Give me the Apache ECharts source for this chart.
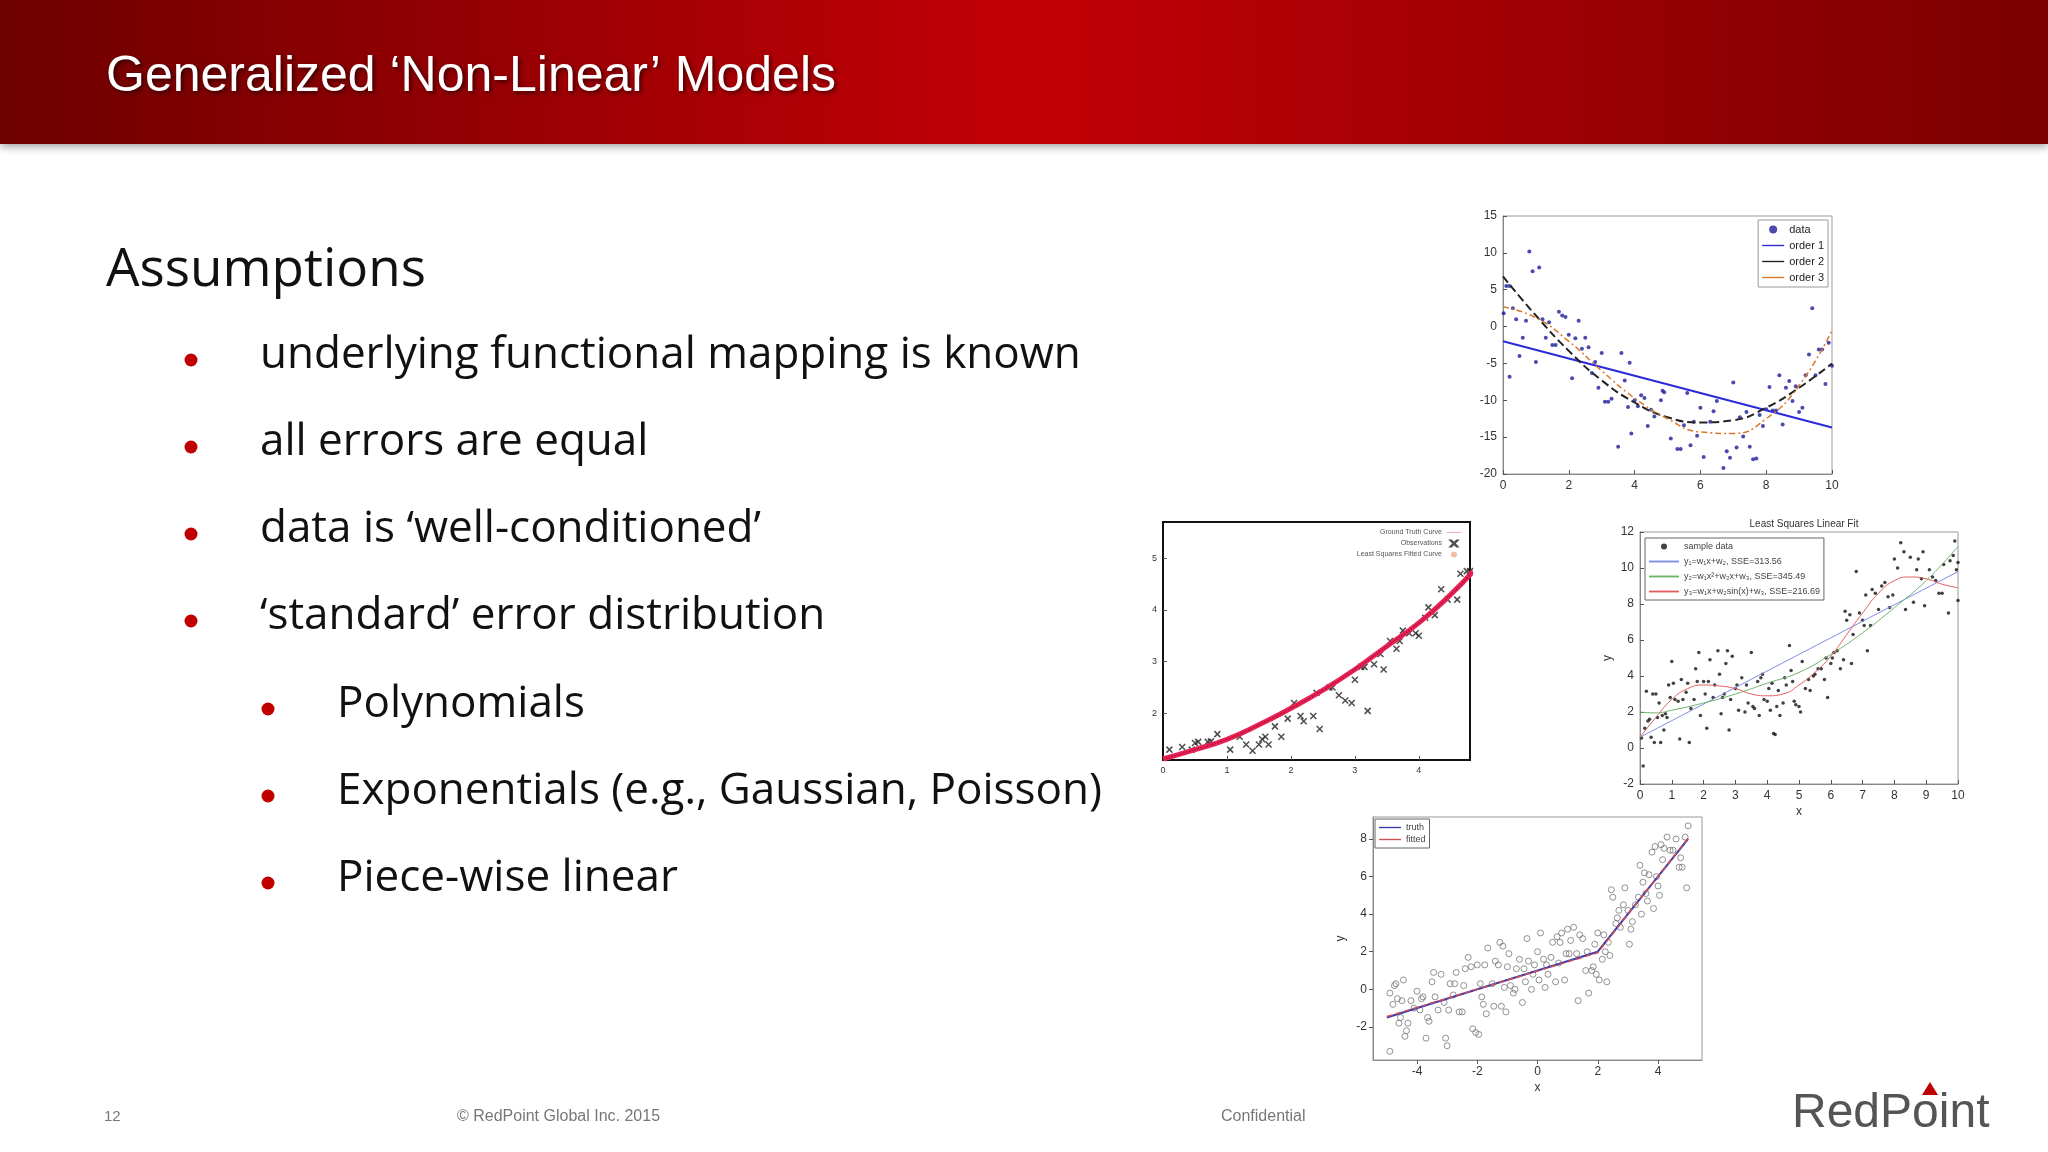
<!DOCTYPE html>
<html>
<head>
<meta charset="utf-8">
<script src="https://cdn.jsdelivr.net/npm/echarts@6/dist/echarts.min.js"></script>
<style>
  html, body { margin: 0; padding: 0; background: #fff; }
  #main { width: 2048px; height: 1152px; }
</style>
</head>
<body>
<div id="main"></div>
<script>
// slide text
const slideTitle = "Generalized \u2018Non-Linear\u2019 Models";
const heading = "Assumptions";
const bullets = ["underlying functional mapping is known", "all errors are equal",
  "data is \u2018well-conditioned\u2019", "\u2018standard\u2019 error distribution"];
const subBullets = ["Polynomials", "Exponentials (e.g., Gaussian, Poisson)", "Piece-wise linear"];

// chart 1: polynomial fits
const polyData = [[0.02,1.8],[0.1,5.5],[0.2,5.5],[0.2,-6.8],[0.3,2.5],[0.4,1],[0.5,-4],[0.6,-1.5],[0.7,0.8],[0.8,10.2],[0.9,7.5],[1.0,-4.8],[1.1,8],[1.2,1],[1.3,-1.5],[1.4,0.6],[1.5,-2.5],[1.6,-2.5],[1.7,2],[1.8,1.5],[1.9,1.3],[2.0,-1.1],[2.1,-7],[2.2,-1.6],[2.3,0.8],[2.4,-3],[2.5,-1.5],[2.6,-2.8],[2.7,-6.3],[2.8,-4.8],[2.9,-8.3],[3.0,-3.6],[3.1,-10.2],[3.2,-10.2],[3.3,-9.8],[3.5,-16.3],[3.6,-3.6],[3.7,-7.3],[3.8,-10.9],[3.85,-4.9],[3.9,-14.5],[4.0,-10],[4.1,-10.8],[4.2,-9.3],[4.3,-9.7],[4.4,-13.5],[4.5,-11.3],[4.6,-12.2],[4.8,-10],[4.85,-8.7],[4.9,-8.9],[5.1,-15.2],[5.3,-16.6],[5.4,-16.6],[5.5,-13.4],[5.6,-9],[5.7,-16.1],[5.8,-12.9],[5.9,-14.8],[6.0,-11],[6.1,-17.7],[6.3,-12.9],[6.4,-11.5],[6.5,-10.1],[6.7,-19.2],[6.8,-16.9],[6.9,-17.8],[7.0,-7.6],[7.1,-16.4],[7.2,-12.3],[7.3,-14.9],[7.4,-11.6],[7.5,-16.3],[7.6,-18],[7.7,-17.9],[7.8,-12],[7.9,-13.5],[8.0,-11.2],[8.1,-8.2],[8.2,-11.4],[8.3,-11.4],[8.4,-6.6],[8.5,-13.3],[8.6,-8.3],[8.7,-7.4],[8.8,-10.1],[8.9,-8.1],[9.0,-11.6],[9.1,-11],[9.2,-6.6],[9.3,-3.8],[9.4,2.5],[9.5,-6.6],[9.6,-3.1],[9.7,-3.1],[9.8,-7.8],[9.9,-2.2],[10,-5.3]];
const order1 = [[0,-2],[10,-13.7]];
const order2 = [[0,6.8],[1,1.5],[2,-3.3],[3,-7.3],[4,-10.3],[5,-12.3],[6,-13],[7,-12.7],[8,-11],[9,-8.3],[10,-5]];
const order3 = [[0,2.7],[1,1.2],[2,-2],[3,-6],[4,-9.7],[5,-12.5],[6,-14.3],[7,-14.5],[8,-12.5],[9,-8],[10,-0.5]];

// chart 2: exponential-like fit
const expObs = [[0.1,1.3],[0.3,1.35],[0.45,1.3],[0.5,1.43],[0.55,1.45],[0.7,1.45],[0.75,1.46],[0.85,1.6],[0.9,0.98],[0.95,0.98],[1.05,1.3],[1.2,1.55],[1.3,1.4],[1.4,1.28],[1.5,1.4],[1.55,1.5],[1.6,1.55],[1.65,1.4],[1.75,1.75],[1.85,1.55],[1.95,1.9],[2.05,2.2],[2.15,1.95],[2.2,1.85],[2.35,1.95],[2.4,2.4],[2.45,1.7],[2.6,2.5],[2.65,2.5],[2.75,2.35],[2.85,2.25],[2.95,2.2],[3.0,2.65],[3.1,2.9],[3.15,2.9],[3.2,2.05],[3.3,2.95],[3.4,3.15],[3.45,2.85],[3.55,3.4],[3.65,3.25],[3.7,3.4],[3.75,3.6],[3.85,3.55],[3.95,3.55],[4.0,3.5],[4.1,3.85],[4.15,4.05],[4.25,3.9],[4.35,4.4],[4.45,4.2],[4.6,4.2],[4.65,4.7],[4.75,4.75],[4.8,4.75]];
const expCurve = [[0,1.12],[0.5,1.3],[1,1.5],[1.5,1.78],[2,2.1],[2.5,2.45],[3,2.85],[3.5,3.3],[4,3.75],[4.5,4.3],[4.85,4.75]];
const expYTicks = [2, 3, 4, 5];
const expXTicks = [0, 1, 2, 3, 4];

// chart 3: least squares linear fit
const lsData = [[0.05,0.55],[0.1,-1],[0.15,1.1],[0.2,3.15],[0.25,1.5],[0.3,1.6],[0.35,0.6],[0.4,3],[0.45,0.3],[0.5,3],[0.55,1.7],[0.6,2.5],[0.65,0.3],[0.7,1.8],[0.75,1],[0.8,1.9],[0.85,1.7],[0.9,3.5],[0.95,2.8],[1.0,4.8],[1.05,3.6],[1.1,2.7],[1.2,2.6],[1.25,0.5],[1.3,3.8],[1.35,2.7],[1.45,3.1],[1.5,3.6],[1.55,0.3],[1.6,2.2],[1.7,2.7],[1.75,4.4],[1.8,3.7],[1.85,5.3],[1.9,1.8],[2.0,3.7],[2.05,3],[2.1,1.1],[2.15,3.7],[2.2,4.9],[2.3,2.8],[2.35,3.5],[2.45,5.4],[2.5,4.1],[2.55,1.9],[2.6,2.8],[2.65,3],[2.7,4.7],[2.75,5.4],[2.8,1],[2.85,2.7],[2.9,5.1],[3.0,3.3],[3.05,3.5],[3.1,2.1],[3.2,3.9],[3.3,2],[3.35,3.5],[3.4,2.5],[3.5,5.3],[3.55,2.3],[3.6,2.2],[3.7,3.7],[3.75,1.8],[3.8,3.9],[3.85,4.1],[3.9,2.7],[4.0,2.6],[4.05,3.3],[4.1,2.1],[4.15,3.6],[4.2,0.8],[4.25,0.75],[4.3,2.3],[4.35,3.2],[4.4,1.8],[4.5,2.5],[4.55,3.9],[4.6,3.5],[4.7,5.7],[4.75,4.3],[4.8,3.7],[4.85,2.6],[4.9,2.4],[5.0,2.3],[5.05,2.0],[5.1,4.8],[5.2,3.3],[5.3,3.8],[5.35,3.2],[5.45,4],[5.5,4.1],[5.6,4.4],[5.7,4.4],[5.8,3.8],[5.85,5.0],[5.9,2.8],[6.0,4.7],[6.05,5],[6.1,5.3],[6.2,5.4],[6.3,4.4],[6.4,4.9],[6.45,7.6],[6.5,7.1],[6.6,7.4],[6.65,4.7],[6.7,6.3],[6.8,9.8],[6.9,7.5],[7.0,7.1],[7.05,6.8],[7.1,8.5],[7.15,5.4],[7.25,6.8],[7.3,8.8],[7.4,8.6],[7.5,7.7],[7.6,9],[7.7,9.2],[7.8,8.4],[7.85,7.8],[7.95,8.5],[8.0,10.5],[8.1,10],[8.2,11.4],[8.3,10.9],[8.35,7.7],[8.5,10.6],[8.6,8.1],[8.7,9.9],[8.75,10.5],[8.85,9.4],[8.9,10.9],[8.95,7.9],[9.1,9.9],[9.2,9.5],[9.3,9.3],[9.4,8.6],[9.5,8.6],[9.55,10.2],[9.7,7.5],[9.75,10.4],[9.85,10.7],[9.9,11.5],[10,10.3],[10,8.2],[9.95,9.9]];
const lsLinear = [[0,0.6],[10,9.8]];
const lsQuad = [[0,2],[0.5,1.95],[1,2.1],[2,2.5],[3,3],[4,3.6],[5,4.2],[6,5.2],[7,6.4],[8,7.8],[9,9.3],[10,11.2]];
const lsSin = [[0,0.6],[0.5,1.7],[1,2.7],[1.5,3.3],[2,3.5],[2.5,3.45],[3,3.3],[3.5,3.0],[4,2.9],[4.5,3.0],[5,3.5],[5.5,4.2],[6,5.1],[6.5,6.3],[7,7.5],[7.5,8.6],[8,9.3],[8.5,9.5],[9,9.4],[9.5,9.1],[10,8.9]];

// chart 4: piece-wise linear
const pwData = [[-4.9,-0.2],[-4.9,-3.3],[-4.8,-0.8],[-4.75,0.2],[-4.7,0.3],[-4.65,-0.5],[-4.6,-1.8],[-4.55,-1.5],[-4.5,-0.6],[-4.45,0.5],[-4.4,-2.5],[-4.35,-2.2],[-4.3,-1.8],[-4.2,-0.6],[-4.1,-1],[-4,-0.1],[-3.9,-1.1],[-3.85,-0.5],[-3.8,-0.4],[-3.7,-2.6],[-3.65,-1.5],[-3.6,-1.7],[-3.5,0.4],[-3.45,0.9],[-3.4,-0.4],[-3.3,-1.1],[-3.2,0.8],[-3.1,-0.7],[-3.05,-2.6],[-3,-3],[-2.95,-1.1],[-2.9,0.3],[-2.8,-0.3],[-2.75,0.3],[-2.7,0.9],[-2.6,-1.2],[-2.5,-1.2],[-2.45,0.2],[-2.4,1.1],[-2.3,1.7],[-2.2,1.2],[-2.15,-2.1],[-2.05,-2.3],[-2,1.3],[-1.95,-2.4],[-1.9,0.3],[-1.85,-0.4],[-1.8,-0.8],[-1.75,1.3],[-1.7,-1.3],[-1.65,2.2],[-1.5,0.3],[-1.45,-0.9],[-1.4,1.5],[-1.3,1.3],[-1.25,2.5],[-1.2,-0.9],[-1.15,2.3],[-1.1,0.1],[-1.05,-1.2],[-1,1.2],[-0.95,1.9],[-0.9,0.2],[-0.8,-0.2],[-0.75,0],[-0.7,1.1],[-0.6,1.6],[-0.5,-0.7],[-0.45,1.1],[-0.4,0.4],[-0.35,2.7],[-0.3,1.5],[-0.2,0],[-0.15,0.8],[-0.1,1.3],[0,2],[0.05,0.5],[0.1,3],[0.2,1.6],[0.25,0.1],[0.3,1.3],[0.35,0.8],[0.45,1.7],[0.5,2.5],[0.6,0.4],[0.65,2.8],[0.7,1.4],[0.75,2.5],[0.8,3],[0.9,0.5],[0.95,1.9],[1,3.2],[1.05,1.9],[1.1,2.6],[1.2,3.3],[1.3,1.9],[1.35,-0.6],[1.4,2.9],[1.5,2.7],[1.6,1],[1.65,2],[1.7,-0.2],[1.8,1],[1.85,1.2],[1.9,2.4],[1.95,0.8],[2,3],[2.05,0.5],[2.15,1.6],[2.2,2.9],[2.25,2],[2.3,0.4],[2.35,2.5],[2.4,1.8],[2.45,5.3],[2.5,4.9],[2.6,3.5],[2.65,3.8],[2.7,4.2],[2.75,3.3],[2.85,4.5],[2.9,5.4],[3,4.2],[3.05,2.4],[3.1,3.2],[3.15,3.6],[3.25,4.5],[3.35,4.9],[3.4,6.6],[3.45,4],[3.5,5.7],[3.55,6.2],[3.6,5.1],[3.65,4.7],[3.7,6.1],[3.8,7.3],[3.85,4.3],[3.9,7.6],[3.95,6],[4,5.5],[4.05,5],[4.1,7.7],[4.15,6.9],[4.2,7.5],[4.3,8.1],[4.4,7.4],[4.5,7.4],[4.6,8],[4.7,6.5],[4.75,7],[4.8,6.5],[4.9,8.1],[4.95,5.4],[5,8.7]];
const pwTruth = [[-5,-1.5],[2,2],[5,8]];
const pwFitted = [[-5,-1.45],[2,1.95],[5,8.05]];
const pwXTicks = [-4, -2, 0, 2, 4];
const pwYTicks = [-2, 0, 2, 4, 6, 8];

const chart = echarts.init(document.getElementById('main'));
const small = { fontSize: 12, color: '#333', fontFamily: 'Liberation Sans' };
const lineIcon = 'path://M0,4L24,4L24,5.5L0,5.5Z';

function axisPair(gi, xr, yr, opts) {
  opts = opts || {};
  const common = {
    gridIndex: gi, type: 'value', splitLine: { show: false },
    axisLine: { show: true, onZero: false, lineStyle: { color: opts.lineColor || '#888' } },
    axisTick: { inside: true, length: 4, lineStyle: { color: '#555' } },
    axisLabel: Object.assign({ margin: 6, showMinLabel: true, showMaxLabel: true }, small)
  };
  return {
    x: Object.assign({}, common, { min: xr[0], max: xr[1], interval: xr[2], name: opts.xName || '', nameLocation: 'middle', nameGap: 22, nameTextStyle: small }),
    y: Object.assign({}, common, { min: yr[0], max: yr[1], interval: yr[2], name: opts.yName || '', nameLocation: 'middle', nameGap: 26, nameTextStyle: small })
  };
}
function custom(ax, vals) {
  ax.interval = null;
  ax.axisLabel = Object.assign({}, ax.axisLabel, { customValues: vals });
  ax.axisTick = Object.assign({}, ax.axisTick, { customValues: vals });
}

const a1 = axisPair(0, [0, 10, 2], [-20, 15, 5]);
const a2 = axisPair(1, [0, 4.8, 1], [1.1, 5.7, 1], { lineColor: '#111' });
custom(a2.x, expXTicks); custom(a2.y, expYTicks);
a2.x.axisLabel.fontSize = 9; a2.y.axisLabel.fontSize = 9;
const a3 = axisPair(2, [0, 10, 1], [-2, 12, 2], { xName: 'x', yName: 'y' });
const a4 = axisPair(3, [-5.46, 5.46, 2], [-3.76, 9.17, 2], { xName: 'x', yName: 'y' });
custom(a4.x, pwXTicks); custom(a4.y, pwYTicks);
a4.x.axisTick.inside = false; a4.y.axisTick.inside = false;

const grids = [
  { left: 1503, top: 216, width: 329, height: 258 },
  { left: 1163, top: 522, width: 307, height: 238 },
  { left: 1640, top: 532, width: 318, height: 252 },
  { left: 1373, top: 817, width: 329, height: 243 }
].map(g => Object.assign(g, { show: true, borderColor: '#999', borderWidth: 1, backgroundColor: '#fff' }));
grids[1].borderColor = '#111'; grids[1].borderWidth = 2;

const legTxt = { fontSize: 11, color: '#222', fontFamily: 'Liberation Sans' };

chart.setOption({
  animation: false,
  backgroundColor: '#fff',
  grid: grids,
  xAxis: [a1.x, a2.x, a3.x, a4.x],
  yAxis: [a1.y, a2.y, a3.y, a4.y],
  title: [{ text: 'Least Squares Linear Fit', left: 1799, top: 514, textAlign: 'center',
    textStyle: { fontSize: 10, fontWeight: 'normal', color: '#333', fontFamily: 'Liberation Sans' } }],
  legend: [
    { data: [{ name: 'data', icon: 'circle' }, { name: 'order 1', icon: lineIcon }, { name: 'order 2', icon: lineIcon }, { name: 'order 3', icon: lineIcon }],
      orient: 'vertical', right: 2048 - 1828, top: 220,
      itemWidth: 22, itemHeight: 8, itemGap: 5, textStyle: legTxt, backgroundColor: '#fff',
      borderColor: '#999', borderWidth: 1, padding: 4 },
    { data: [{ name: 'Ground Truth Curve', icon: lineIcon }, { name: 'Observations', icon: 'path://M0,0L2,0L10,8L18,0L20,0L11,9L20,18L18,18L10,10L2,18L0,18L9,9Z' }, { name: 'Least Squares Fitted Curve', icon: 'circle' }],
      orient: 'vertical', right: 2048 - 1466, top: 524, align: 'right', itemWidth: 14, itemHeight: 6, itemGap: 2,
      textStyle: { fontSize: 7, color: '#555' } },
    { data: [{ name: 'sample data', icon: 'circle' }, { name: 'y\u2081=w\u2081x+w\u2082, SSE=313.56', icon: lineIcon }, { name: 'y\u2082=w\u2081x\u00b2+w\u2082x+w\u2083, SSE=345.49', icon: lineIcon }, { name: 'y\u2083=w\u2081x+w\u2082sin(x)+w\u2083, SSE=216.69', icon: lineIcon }],
      orient: 'vertical', left: 1645, top: 538, itemWidth: 30, itemHeight: 6, itemGap: 6,
      textStyle: { fontSize: 9, color: '#444' }, borderColor: '#666', borderWidth: 1, padding: 4, backgroundColor: '#fff' },
    { data: [{ name: 'truth', icon: lineIcon }, { name: 'fitted', icon: lineIcon }], orient: 'vertical', left: 1375, top: 819, itemWidth: 22, itemHeight: 6, itemGap: 3,
      textStyle: { fontSize: 9, color: '#444' }, borderColor: '#666', borderWidth: 1, padding: 4, backgroundColor: '#fff' }
  ],
  graphic: [
    { type: 'rect', left: 0, top: 0, shape: { width: 2048, height: 144 }, z: -1,
      style: { fill: new echarts.graphic.LinearGradient(0, 0, 1, 0, [
        { offset: 0, color: '#6e0000' }, { offset: 0.5, color: '#c20006' }, { offset: 1, color: '#7a0000' }]),
        shadowBlur: 8, shadowColor: 'rgba(0,0,0,0.35)', shadowOffsetY: 3 } },
    { type: 'text', left: 106, top: 52, style: { text: slideTitle, fill: '#fff', font: '50px "Liberation Sans"',
      textShadowBlur: 4, textShadowColor: 'rgba(0,0,0,0.6)', textShadowOffsetX: 2, textShadowOffsetY: 2 } },
    { type: 'text', left: 106, top: 244, style: { text: heading, fill: '#111', font: '53px "Open Sans"' } },
    ...bullets.flatMap((b, i) => [
      { type: 'circle', shape: { cx: 191, cy: 360 + i * 87, r: 6.5 }, style: { fill: '#c00000' } },
      { type: 'text', left: 260, top: 333 + i * 87, style: { text: b, fill: '#111', font: '44px "Open Sans"' } }
    ]),
    ...subBullets.flatMap((b, i) => [
      { type: 'circle', shape: { cx: 268, cy: 709 + i * 87, r: 6.5 }, style: { fill: '#c00000' } },
      { type: 'text', left: 337, top: 682 + i * 87, style: { text: b, fill: '#111', font: '44px "Open Sans"' } }
    ]),
    { type: 'text', left: 104, top: 1109, style: { text: '12', fill: '#777', font: '15px "Liberation Sans"' } },
    { type: 'text', left: 457, top: 1109, style: { text: '\u00a9 RedPoint Global Inc. 2015', fill: '#777', font: '16px "Liberation Sans"' } },
    { type: 'text', left: 1221, top: 1109, style: { text: 'Confidential', fill: '#777', font: '16px "Liberation Sans"' } },
    { type: 'text', left: 1792, top: 1090, style: { text: 'RedPoint', fill: '#555', font: '48px "Liberation Sans"' } },
    { type: 'polygon', shape: { points: [[1922, 1095], [1930, 1082], [1938, 1095]] }, style: { fill: '#c00000' } }
  ],
  series: [
    { name: 'data', type: 'scatter', xAxisIndex: 0, yAxisIndex: 0, data: polyData, symbolSize: 4, itemStyle: { color: '#1d1d9a' } },
    { name: 'order 1', type: 'line', xAxisIndex: 0, yAxisIndex: 0, data: order1, symbol: 'none', lineStyle: { color: '#2a2ad8', width: 2 }, itemStyle: { color: '#2a2ad8' } },
    { name: 'order 2', type: 'line', xAxisIndex: 0, yAxisIndex: 0, data: order2, smooth: true, symbol: 'none', lineStyle: { color: '#222', width: 2, type: 'dashed' }, itemStyle: { color: '#222' } },
    { name: 'order 3', type: 'line', xAxisIndex: 0, yAxisIndex: 0, data: order3, smooth: true, symbol: 'none', lineStyle: { color: '#d9782a', width: 1.5, type: [6, 3, 2, 3] }, itemStyle: { color: '#d9782a' } },

    { name: 'Ground Truth Curve', type: 'line', xAxisIndex: 1, yAxisIndex: 1, data: expCurve, smooth: true, symbol: 'none', lineStyle: { color: '#e8225a', width: 5 }, itemStyle: { color: '#e8a0a0' } },
    { name: 'Least Squares Fitted Curve', type: 'line', xAxisIndex: 1, yAxisIndex: 1, data: expCurve, smooth: true, symbol: 'none', lineStyle: { color: '#b0102a', width: 1.5, type: 'dotted' }, itemStyle: { color: '#f0c0a0' } },
    { name: 'Observations', type: 'scatter', xAxisIndex: 1, yAxisIndex: 1, data: expObs, symbol: 'path://M0,0L10,10M10,0L0,10', symbolSize: 6, itemStyle: { color: 'none', borderColor: '#222', borderWidth: 1.5 } },

    { name: 'sample data', type: 'scatter', xAxisIndex: 2, yAxisIndex: 2, data: lsData, symbolSize: 3.5, itemStyle: { color: '#111' } },
    { name: 'y\u2081=w\u2081x+w\u2082, SSE=313.56', type: 'line', xAxisIndex: 2, yAxisIndex: 2, data: lsLinear, symbol: 'none', lineStyle: { color: '#7f8fe8', width: 1 }, itemStyle: { color: '#7f8fe8' } },
    { name: 'y\u2082=w\u2081x\u00b2+w\u2082x+w\u2083, SSE=345.49', type: 'line', xAxisIndex: 2, yAxisIndex: 2, data: lsQuad, smooth: true, symbol: 'none', lineStyle: { color: '#6fb46f', width: 1 }, itemStyle: { color: '#6fb46f' } },
    { name: 'y\u2083=w\u2081x+w\u2082sin(x)+w\u2083, SSE=216.69', type: 'line', xAxisIndex: 2, yAxisIndex: 2, data: lsSin, smooth: true, symbol: 'none', lineStyle: { color: '#e06060', width: 1 }, itemStyle: { color: '#e06060' } },

    { name: 'points', type: 'scatter', xAxisIndex: 3, yAxisIndex: 3, data: pwData, symbol: 'circle', symbolSize: 6, itemStyle: { color: 'none', borderColor: '#777', borderWidth: 1 } },
    { name: 'truth', type: 'line', xAxisIndex: 3, yAxisIndex: 3, data: pwTruth, symbol: 'none', lineStyle: { color: '#3a3ab0', width: 2 }, itemStyle: { color: '#3a3ab0' } },
    { name: 'fitted', type: 'line', xAxisIndex: 3, yAxisIndex: 3, data: pwFitted, symbol: 'none', lineStyle: { color: '#d05050', width: 1.5, type: 'dashed' }, itemStyle: { color: '#d05050' } }
  ]
});
</script>
</body>
</html>
